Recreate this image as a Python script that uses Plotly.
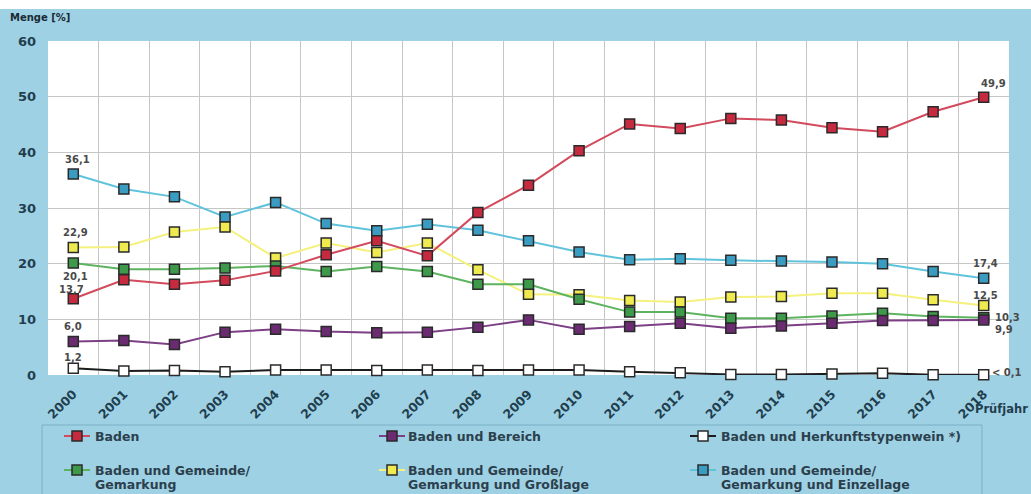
import plotly.graph_objects as go

# Prüfjahre
years = list(range(2000, 2019))
year_labels = [str(y) for y in years]

# Anteil an der Gesamtmenge [%]
baden = [13.7, 17.1, 16.3, 17.0, 18.7, 21.6, 24.1, 21.4, 29.2, 34.1, 40.3, 45.1, 44.3, 46.1, 45.8, 44.4, 43.7, 47.3, 49.9]
bereich = [6.0, 6.2, 5.5, 7.7, 8.2, 7.8, 7.6, 7.7, 8.6, 9.9, 8.2, 8.7, 9.3, 8.4, 8.8, 9.3, 9.8, 9.8, 9.9]
herkunft = [1.2, 0.7, 0.8, 0.6, 0.9, 0.9, 0.8, 0.9, 0.8, 0.9, 0.9, 0.6, 0.4, 0.1, 0.1, 0.2, 0.3, 0.05, 0.05]
gemarkung = [20.1, 19.0, 19.0, 19.2, 19.6, 18.6, 19.5, 18.6, 16.3, 16.3, 13.6, 11.3, 11.3, 10.2, 10.2, 10.6, 11.1, 10.5, 10.3]
grosslage = [22.9, 23.0, 25.7, 26.6, 21.0, 23.7, 22.0, 23.7, 18.9, 14.5, 14.4, 13.4, 13.1, 14.0, 14.1, 14.7, 14.7, 13.5, 12.5]
einzellage = [36.1, 33.4, 32.0, 28.4, 31.0, 27.2, 25.9, 27.1, 26.0, 24.1, 22.1, 20.7, 20.9, 20.6, 20.5, 20.3, 20.0, 18.6, 17.4]

series_names = [
    "Baden",
    "Baden und Bereich",
    "Baden und Herkunftstypenwein *)",
    "Baden und Gemeinde/<br>Gemarkung",
    "Baden und Gemeinde/<br>Gemarkung und Großlage",
    "Baden und Gemeinde/<br>Gemarkung und Einzellage",
]
series_values = [baden, bereich, herkunft, gemarkung, grosslage, einzellage]
fill_colors = ["#c52a3e", "#6a2b70", "#ffffff", "#3e9a4a", "#eeea50", "#3b9cc2"]
line_colors = ["#d24a5c", "#7d3f85", "#1c1c1c", "#5db35f", "#f5f17e", "#60c3dc"]

y_ticks = [0, 10, 20, 30, 40, 50, 60]

BG = "#9fd1e4"
TEXT = "#1f3f4f"
LABEL = "#4a4a4a"
FONT = "DejaVu Sans"

# plot-area geometry in pixels (used for paper-coordinate decorations)
W, H = 1031, 494
L, R, T, B = 48, 22, 41, 119
PW, PH = W - L - R, H - T - B


def px(x):
    return (x - L) / PW


def py(y):
    return (H - B - y) / PH


def fmt(v):
    return f"{v:.1f}".replace(".", ",")


fig = go.Figure()

draw_order = [5, 4, 3, 1, 2, 0]
for i in draw_order:
    fig.add_trace(go.Scatter(
        x=years, y=series_values[i], name=series_names[i].replace("<br>", " "),
        mode="lines+markers", cliponaxis=False, showlegend=False,
        line=dict(color=line_colors[i], width=2),
        marker=dict(symbol="square", size=10, color=fill_colors[i],
                    line=dict(color="#2a2a2a", width=1.5)),
    ))

# value labels at the first and last year
label_font = dict(family=FONT, size=10, color=LABEL, weight="bold")
first = [  # (series index, xshift, yshift)
    (5, 4, 15), (4, 2, 15), (3, 2, -13), (0, -2, 9), (1, 0, 15), (2, 0, 11),
]
for idx, dx, dy in first:
    v = series_values[idx][0]
    fig.add_annotation(x=years[0], y=v, text=fmt(v), showarrow=False,
                       xshift=dx, yshift=dy, font=label_font)

last = [  # (series index, text, xshift, yshift)
    (0, fmt(baden[-1]), 10, 14),
    (5, fmt(einzellage[-1]), 2, 15),
    (4, fmt(grosslage[-1]), 2, 10),
    (3, fmt(gemarkung[-1]), 24, 0),
    (1, fmt(bereich[-1]), 20, -10),
    (2, "< 0,1", 23, 2),
]
for idx, txt, dx, dy in last:
    fig.add_annotation(x=years[-1], y=series_values[idx][-1], text=txt,
                       showarrow=False, xshift=dx, yshift=dy, font=label_font)

shapes = []
annotations = []

# white strip along the top edge
shapes.append(dict(type="rect", xref="paper", yref="paper",
                   x0=px(-5), x1=px(W + 5), y0=py(9), y1=py(-5),
                   fillcolor="white", line=dict(width=0), layer="below"))

# legend frame
shapes.append(dict(type="rect", xref="paper", yref="paper",
                   x0=px(42), x1=px(982), y0=py(505), y1=py(425),
                   fillcolor="rgba(0,0,0,0)", line=dict(color="#78afc6", width=1)))

# legend entries: three columns, two rows
col_marker = [77, 392, 703]
col_text = [93, 406, 719]
row_y = [436, 470]
line_gap = 14
legend_font = dict(family=FONT, size=12.5, color="#2b3f4d", weight="bold")
for k in range(6):
    r, c = divmod(k, 3)
    cx, cy = col_marker[c], row_y[r]
    shapes.append(dict(type="line", xref="paper", yref="paper",
                       x0=px(cx - 13), x1=px(cx + 13), y0=py(cy), y1=py(cy),
                       line=dict(color=line_colors[k], width=2)))
    shapes.append(dict(type="rect", xref="paper", yref="paper",
                       x0=px(cx - 5), x1=px(cx + 5), y0=py(cy + 5), y1=py(cy - 5),
                       fillcolor=fill_colors[k], line=dict(color="#2a2a2a", width=1.5)))
    for j, part in enumerate(series_names[k].split("<br>")):
        annotations.append(dict(xref="paper", yref="paper", x=px(col_text[c]),
                                y=py(cy + j * line_gap), xanchor="left", yanchor="middle",
                                align="left", text=part, showarrow=False, font=legend_font))

annotations.append(dict(xref="paper", yref="paper", x=px(8), y=py(17),
                        xanchor="left", yanchor="middle", text="Menge [%]",
                        showarrow=False,
                        font=dict(family=FONT, size=10, color="#1a2a35", weight="bold")))
annotations.append(dict(xref="paper", yref="paper", x=px(1030), y=py(409),
                        xanchor="right", yanchor="middle", text="Prüfjahr",
                        showarrow=False,
                        font=dict(family=FONT, size=11.5, color=TEXT, weight="bold")))

for a in annotations:
    fig.add_annotation(**a)

fig.update_layout(
    width=W, height=H,
    margin=dict(l=L, r=R, t=T, b=B, pad=0),
    paper_bgcolor=BG, plot_bgcolor="white",
    shapes=shapes,
    showlegend=False,
    xaxis=dict(
        range=[1999.5, 2018.5], tickmode="array", tickvals=years, ticktext=year_labels,
        tickangle=-45, showgrid=False, zeroline=False, showline=False,
        ticks="outside", ticklen=6, tickcolor="rgba(0,0,0,0)",
        tickfont=dict(family=FONT, size=12.5, color=TEXT, weight="bold"),
        minor=dict(tick0=1999.5, dtick=1, showgrid=True, gridcolor="#c6c6c6", gridwidth=1),
    ),
    yaxis=dict(
        range=[0, 60], tickmode="array", tickvals=y_ticks,
        showgrid=True, gridcolor="#c6c6c6", gridwidth=1, zeroline=False,
        ticklabelstandoff=11,
        tickfont=dict(family=FONT, size=13, color=TEXT, weight="bold"),
    ),
)

fig.write_html("out.html")
